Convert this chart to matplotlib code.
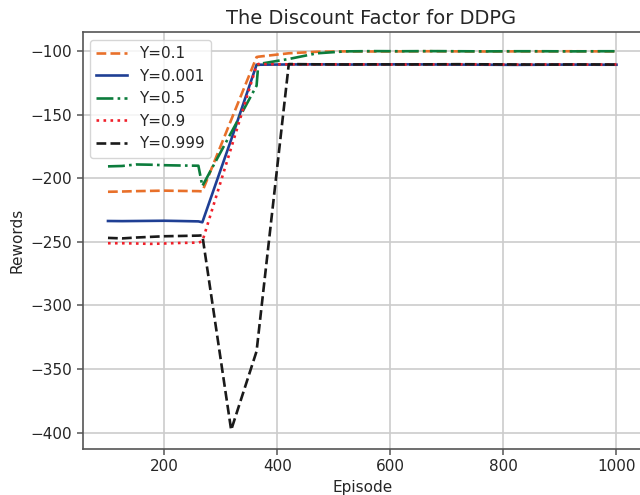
import numpy as np
import matplotlib
matplotlib.use('agg')
import matplotlib.pyplot as plt

# episodes where the curves were sampled
episodes = [100, 125, 150, 175, 200, 225, 260, 267, 318, 363, 366, 420,
            470, 520, 570, 620, 670, 720, 770, 820, 870, 920, 970, 1000]

rew_01 = [-210.5, -210.3, -210.0, -209.8, -209.6, -209.8, -210.0, -210.2,
          -154.0, -104.5, -104.2, -101.5,
          -100.3, -100.0, -100.1, -100.0, -99.9, -100.0, -100.1, -100.0,
          -100.0, -99.9, -100.0, -100.0]
rew_0001 = [-233.5, -233.6, -233.5, -233.4, -233.3, -233.5, -233.8, -234.5,
            -169.5, -110.5, -110.5, -110.3,
            -110.2, -110.4, -110.3, -110.2, -110.3, -110.4, -110.5, -110.6,
            -110.5, -110.4, -110.5, -110.5]
rew_05 = [-190.5, -190.2, -189.0, -189.2, -189.6, -189.8, -190.0, -206.0,
          -164.0, -127.0, -110.0, -106.0,
          -101.5, -100.0, -99.8, -99.9, -99.8, -99.9, -100.0, -99.9,
          -99.9, -100.0, -99.9, -99.9]
rew_09 = [-251.0, -251.0, -251.2, -251.5, -251.2, -250.8, -250.5, -249.5,
          -176.0, -111.0, -110.0, -110.2,
          -110.3, -110.2, -110.3, -110.4, -110.3, -110.2, -110.3, -110.4,
          -110.3, -110.3, -110.4, -110.3]
rew_0999 = [-246.8, -247.2, -246.5, -246.0, -245.5, -245.3, -245.0, -244.8,
            -398.0, -336.0, -324.0, -110.0,
            -110.2, -110.3, -110.2, -110.3, -110.2, -110.1, -110.2, -110.3,
            -110.4, -110.3, -110.3, -110.4]

labels = ['Y=0.1', 'Y=0.001', 'Y=0.5', 'Y=0.9', 'Y=0.999']
series = [rew_01, rew_0001, rew_05, rew_09, rew_0999]
colors = ['#e8702a', '#1f3f94', '#0c7c3c', '#f0202a', '#1a1a1a']
styles = ['--', '-', '-.', ':', '--']

plt.rcParams['font.family'] = 'DejaVu Sans'
plt.rcParams['text.color'] = '#262626'
plt.rcParams['axes.labelcolor'] = '#262626'
plt.rcParams['xtick.color'] = '#262626'
plt.rcParams['ytick.color'] = '#262626'

fig = plt.figure(figsize=(6.4, 4.95), dpi=100)
# axes run past the right edge like the reference crop
ax = fig.add_axes([0.129, 0.093, 0.874, 0.842])

for y, lab, c, ls in zip(series, labels, colors, styles):
    ax.plot(episodes, y, ls, color=c, lw=1.9, label=lab)

ax.grid(True, color='#cccccc', lw=1.2)
ax.set_axisbelow(True)
for s in ax.spines.values():
    s.set_color('#555555')
    s.set_linewidth(1.2)
ax.tick_params(labelsize=11, length=4, width=1.1, color='#555555')
ax.set_xticks([200, 400, 600, 800, 1000])
ax.set_xlabel('Episode', fontsize=11)
ax.set_ylabel('Rewords', fontsize=11)
ax.set_title('The Discount Factor for DDPG', fontsize=14, x=0.515)
ax.legend(loc='upper left', fontsize=11, framealpha=0.8)

fig.savefig('out.png', dpi=100)
